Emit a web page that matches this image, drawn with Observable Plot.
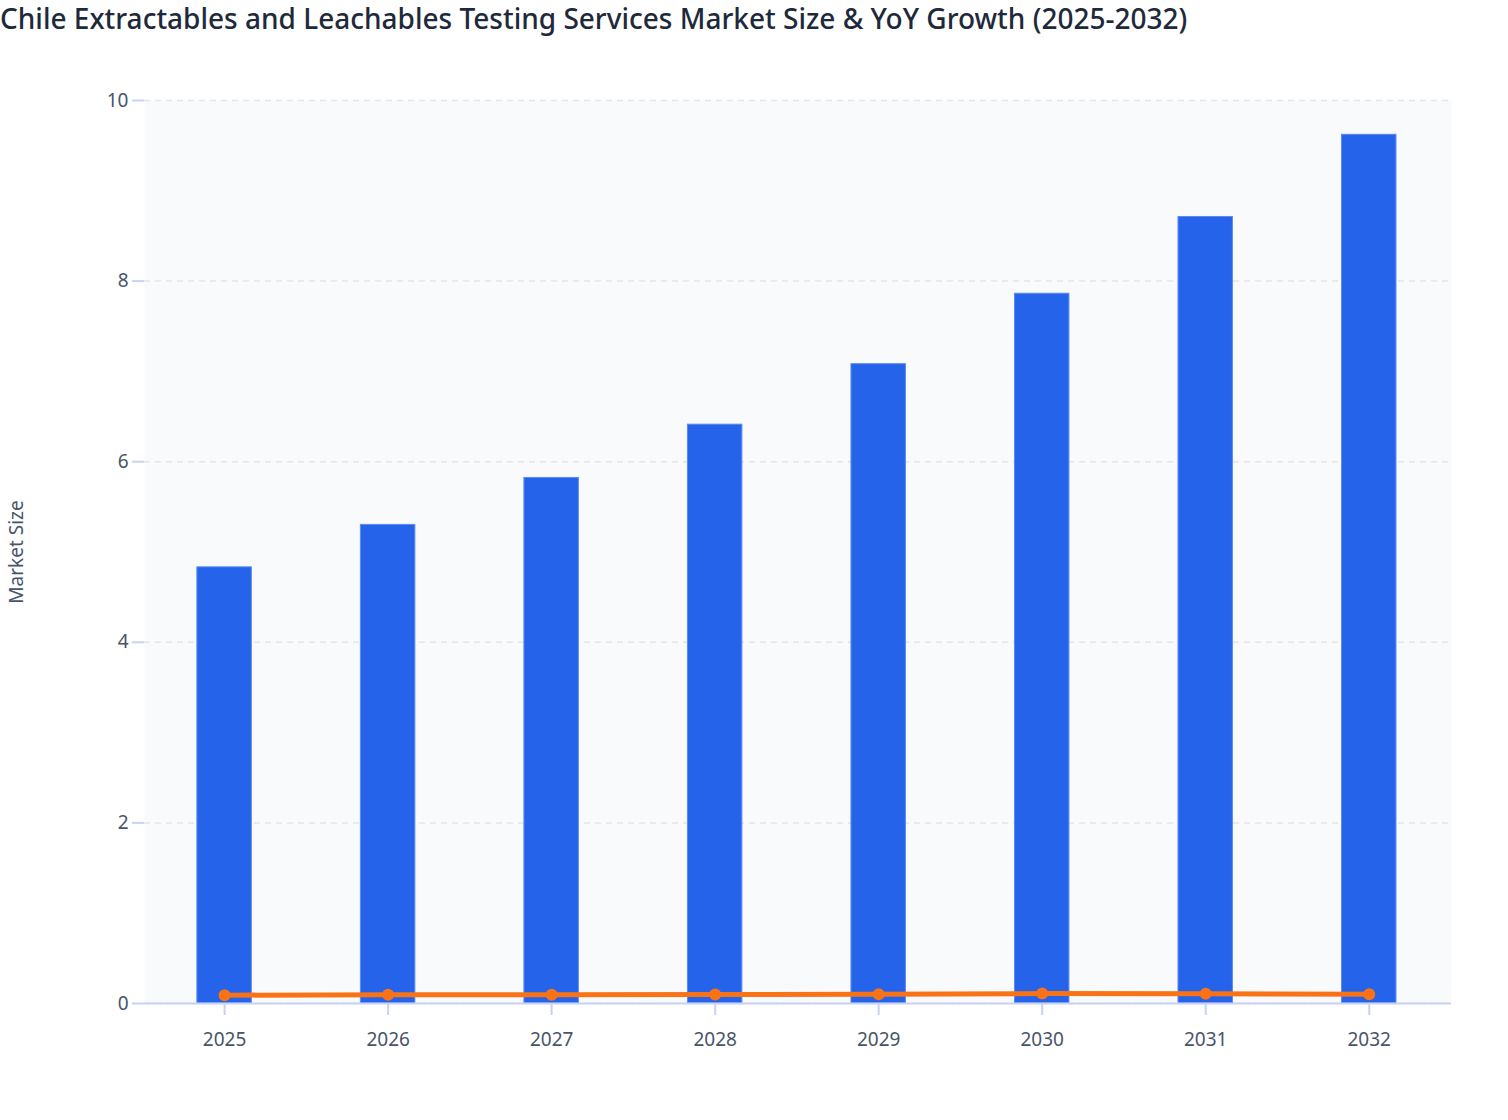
<!DOCTYPE html>
<html>
<head>
<meta charset="utf-8">
<script src="https://cdn.jsdelivr.net/npm/d3@7"></script>
<script src="https://cdn.jsdelivr.net/npm/@observablehq/plot@0.6"></script>
<style>
  html, body { margin: 0; padding: 0; background: #fff; }
  #title { font-family: "Noto Sans", sans-serif; font-size: 28px; font-weight: 500; color: #1e293b; height: 40px; line-height: 36px; padding-left: 0px; white-space: nowrap; }
  #chart svg { display: block; }
</style>
</head>
<body>
<div id="title">Chile Extractables and Leachables Testing Services Market Size &amp; YoY Growth (2025-2032)</div>
<div id="chart"></div>
<script>
const years = ["2025", "2026", "2027", "2028", "2029", "2030", "2031", "2032"];
const marketSize = [4.83, 5.30, 5.82, 6.41, 7.08, 7.86, 8.71, 9.62];
const yoyGrowth = [0.092, 0.096, 0.097, 0.099, 0.102, 0.110, 0.107, 0.103];
const yTicks = [0, 2, 4, 6, 8, 10];

const data = years.map((y, i) => ({year: y, size: marketSize[i], growth: yoyGrowth[i]}));

const chart = Plot.plot({
  width: 1508,
  height: 1080,
  marginTop: 60,
  marginBottom: 117,
  marginLeft: 144,
  marginRight: 57,
  style: { fontFamily: "Noto Sans, sans-serif", fontSize: "19px", color: "#475569", background: "#fff" },
  x: { type: "band", domain: years, paddingInner: 0.667, paddingOuter: 0.33, align: 0.49, round: false, label: null },
  y: { domain: [0, 10], label: null },
  marks: [
    Plot.frame({ fill: "#f8fafc", stroke: null }),
    Plot.gridY(yTicks, { stroke: "#e2e5ea", strokeOpacity: 1, strokeDasharray: "6,5", strokeWidth: 1.5 }),
    Plot.barY(data, { x: "year", y: "size", fill: "#2563eb", stroke: "#5b8bf0", strokeWidth: 1 }),
    Plot.ruleX([0], { frameAnchor: "left", stroke: "#c7d2f4", strokeWidth: 2 }),
    Plot.ruleY([0], { stroke: "#c7d2f4", strokeWidth: 2 }),
    Plot.axisY(yTicks, { tickSize: 12, tickPadding: 4, tickFormat: d => String(d), stroke: "#c7d2f4", strokeWidth: 2, fill: "#475569", label: null }),
    Plot.axisX({ tickSize: 12, tickPadding: 17, stroke: "#c7d2f4", strokeWidth: 2, fill: "#475569", label: null }),
    Plot.line(data, { x: "year", y: "growth", stroke: "#f97316", strokeWidth: 5 }),
    Plot.dot(data, { x: "year", y: "growth", fill: "#f97316", r: 6 }),
    Plot.text(["Market Size"], { frameAnchor: "left", dx: -128, rotate: -90, textAnchor: "middle", fill: "#475569", fontSize: 19 })
  ]
});
document.getElementById("chart").appendChild(chart);
</script>
</body>
</html>
